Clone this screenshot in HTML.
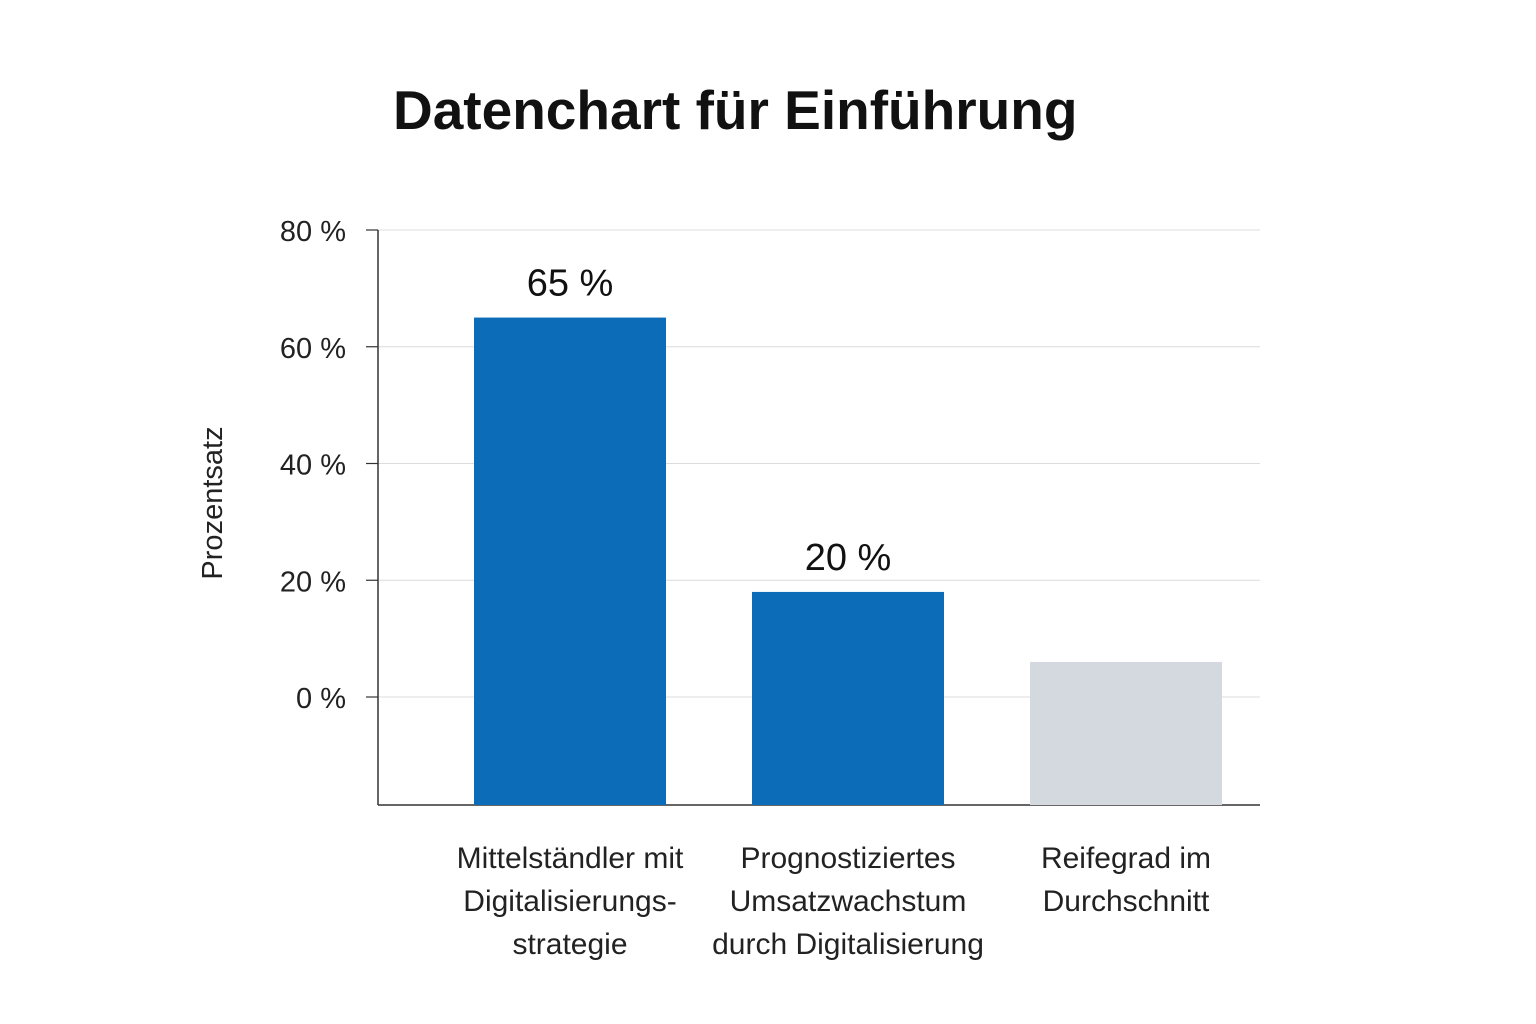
<!DOCTYPE html>
<html><head><meta charset="utf-8"><style>
html,body{margin:0;padding:0;background:#fff;}
svg{display:block;font-family:"Liberation Sans",sans-serif;}
</style></head><body>
<svg id="chart" width="1536" height="1024" viewBox="0 0 1536 1024">
<text x="393" y="129" font-size="55" font-weight="bold" fill="#111">Datenchart für Einführung</text>
<text transform="translate(222,503) rotate(-90)" text-anchor="middle" font-size="29" fill="#222">Prozentsatz</text>
<g id="grid"></g><g id="bars"></g><g id="labels"></g>
</svg>
<script>
const categories=[["Mittelständler mit","Digitalisierungs-","strategie"],["Prognostiziertes","Umsatzwachstum","durch Digitalisierung"],["Reifegrad im","Durchschnitt"]];
const values=[65,18,6];
const valueLabels=["65 %","20 %",""];
const barColors=["#0d6cb8","#0d6cb8","#d3d9df"];
const yTicks=[0,20,40,60,80];
const tickLabels=["0 %","20 %","40 %","60 %","80 %"];
const NS="http://www.w3.org/2000/svg";
const x0=378,x1=1260,yBottom=805;
const y=v=>697-v*(697-230)/80;
const bandStart=431,bandStep=278,barW=192;
const xc=i=>bandStart+bandStep*i+139;
function mk(t,a,p){const e=document.createElementNS(NS,t);for(const k in a)e.setAttribute(k,a[k]);p.appendChild(e);return e;}
const g=document.getElementById('grid'),b=document.getElementById('bars'),l=document.getElementById('labels');
yTicks.forEach((t,i)=>{
 const gl=mk('line',{x1:x0,x2:x1,y1:y(t),y2:y(t),stroke:'#dcdcdc','stroke-width':1},g);
 
 
 const tk=mk('line',{x1:366,x2:x0,y1:y(t),y2:y(t),stroke:'#333','stroke-width':1.2},g);
 
 
 const tx=mk('text',{x:346,y:y(t)+11,'text-anchor':'end','font-size':29,fill:'#222'},g);
 tx.textContent=tickLabels[i];
 
 
});
const ax=mk('line',{x1:x0,x2:x0,y1:230,y2:yBottom,stroke:'#333','stroke-width':1.5},g);


const bx=mk('line',{x1:x0,x2:x1,y1:yBottom,y2:yBottom,stroke:'#333','stroke-width':1.5},g);


values.forEach((v,i)=>{
 const r=mk('rect',{x:xc(i)-barW/2,y:y(v),width:barW,height:yBottom-y(v),fill:barColors[i]},b);
 
 
 if(valueLabels[i]){
  const t=mk('text',{x:xc(i),y:y(v)-22,'text-anchor':'middle','font-size':38,fill:'#111'},l);
  t.textContent=valueLabels[i];
  
  
 }
 categories[i].forEach((line,j)=>{
  const t=mk('text',{x:xc(i),y:868+j*43,'text-anchor':'middle','font-size':30,fill:'#222'},l);
  t.textContent=line;
  
  
 });
});
</script>
</body></html>
